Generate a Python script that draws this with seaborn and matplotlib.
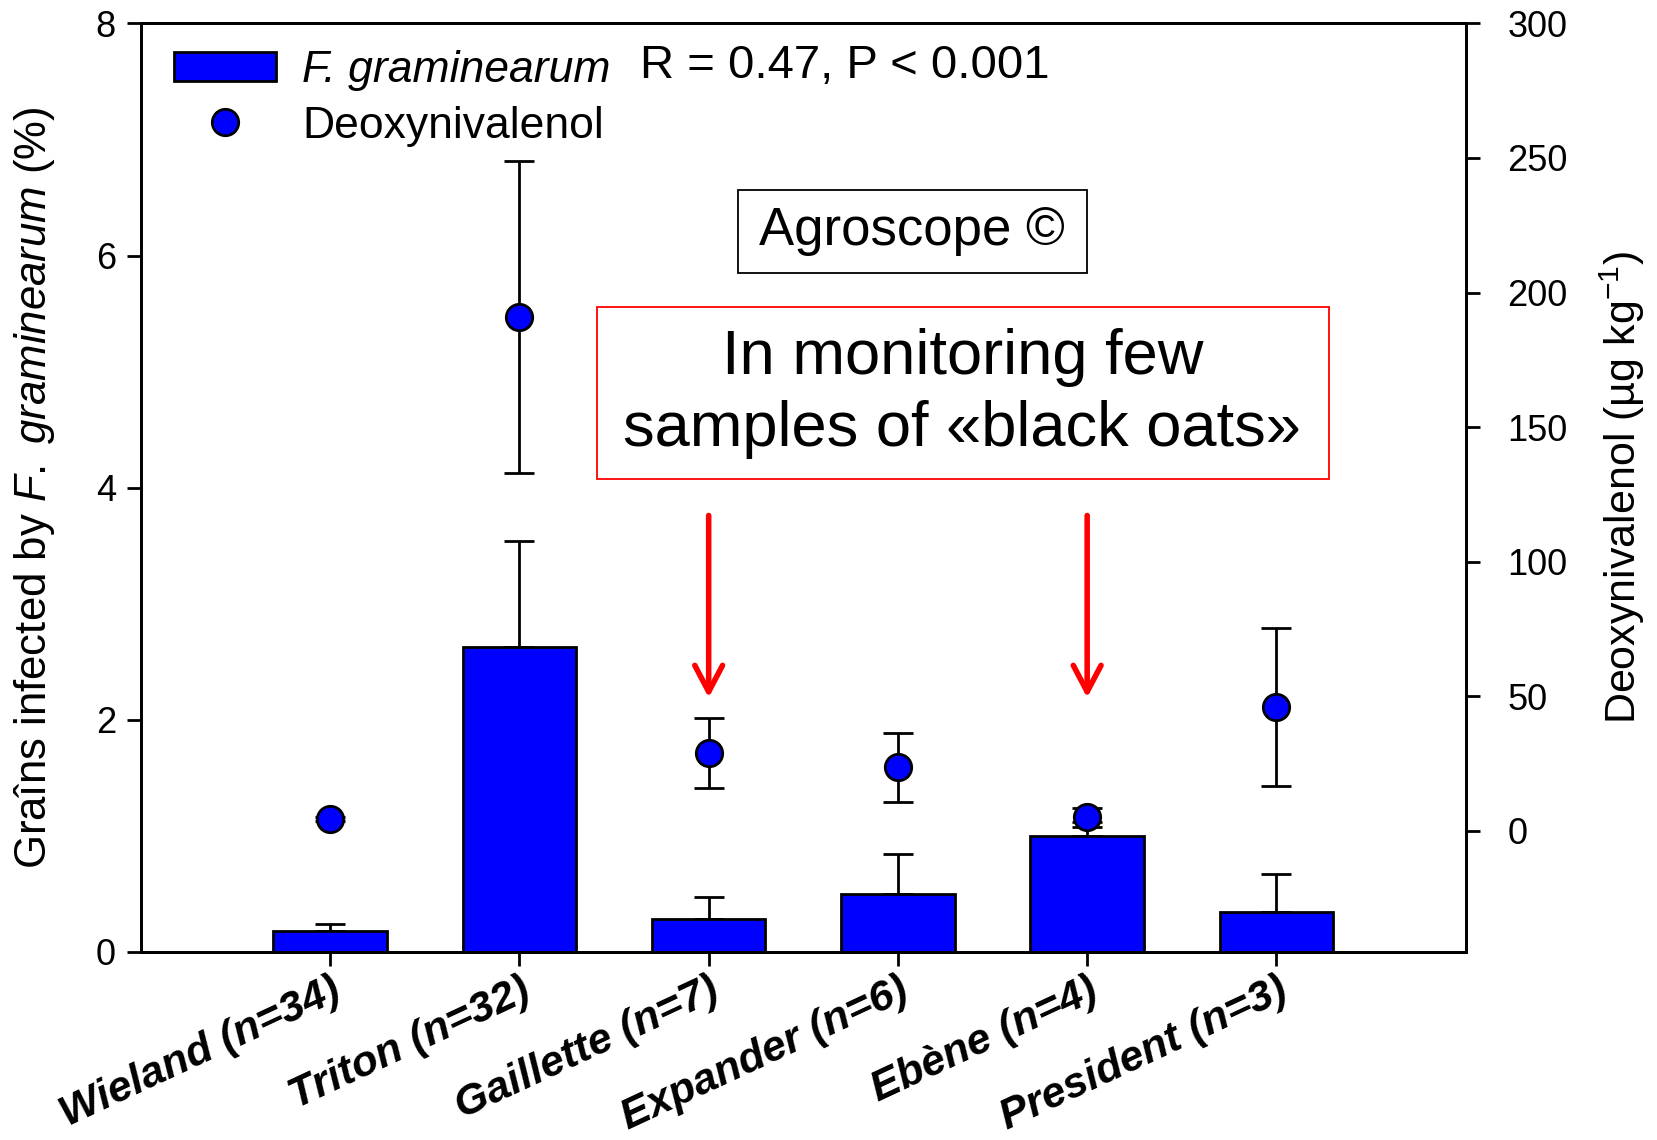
import numpy as np
import pandas as pd
import matplotlib
matplotlib.use("Agg")
import matplotlib.pyplot as plt
import seaborn as sns
from matplotlib.patches import Patch, Rectangle
from matplotlib.lines import Line2D

# ---- data ----
varieties = ["Wieland (n=34)", "Triton (n=32)", "Gaillette (n=7)",
             "Expander (n=6)", "Ebène (n=4)", "President (n=3)"]
fg_infected = [0.18, 2.63, 0.28, 0.50, 1.00, 0.34]      # % grains infected
fg_err = [0.06, 0.91, 0.19, 0.34, 0.12, 0.33]           # upper error
don_values = [4.5, 191.0, 29.0, 23.6, 5.0, 46.0]        # µg/kg
don_err = [0.8, 58.0, 13.0, 12.8, 3.5, 29.5]
highlight = ["Gaillette (n=7)", "Ebène (n=4)"]

sns.set_theme(style="white")
plt.rcParams["font.family"] = ["Liberation Sans", "DejaVu Sans"]
plt.rcParams["mathtext.fontset"] = "custom"
plt.rcParams["mathtext.rm"] = "Liberation Sans"
plt.rcParams["mathtext.it"] = "Liberation Sans:italic"
plt.rcParams["mathtext.bf"] = "Liberation Sans:bold"
for k in ["text.color", "axes.labelcolor", "xtick.color", "ytick.color"]:
    plt.rcParams[k] = "black"

fig = plt.figure(figsize=(16.58, 11.4), dpi=100)
ax = fig.add_axes([0.085, 0.165, 0.799, 0.8145])

df = pd.DataFrame({"variety": varieties, "fg": fg_infected})
sns.barplot(data=df, x="variety", y="fg", color=(0, 0, 1), saturation=1,
            width=0.6, edgecolor="black", linewidth=2, errorbar=None, ax=ax,
            zorder=2)
pos = np.arange(len(varieties))
ax.errorbar(pos, fg_infected, yerr=[np.zeros(len(fg_err)), fg_err], fmt="none",
            ecolor="black", elinewidth=2, capsize=11, capthick=2, zorder=1)

ax.set_xlim(-1, 6)
ax.set_ylim(0, 8)
ax.set_yticks([0, 2, 4, 6, 8])
ax.set_xlabel("")
ax.set_ylabel(r"Graîns infected by $\mathit{F.}$ $\mathit{graminearum}$ (%)",
              fontsize=31.5)
ax.yaxis.set_label_coords(-0.08, 0.5)
ax.yaxis.label.set_va("center")
ax.yaxis.label.set_rotation_mode("anchor")
ax.set_xticks(pos)
ax.set_xticklabels(varieties, rotation=25, ha="right", rotation_mode="anchor",
                   fontsize=31, fontweight="bold", fontstyle="italic")
ax.tick_params(axis="y", direction="out", length=10, width=2, labelsize=26,
               left=True, pad=8)
ax.tick_params(axis="x", direction="out", length=10, width=2, labelsize=31,
               bottom=True, pad=3)
for s in ax.spines.values():
    s.set_color("black")
    s.set_linewidth(2)

ax2 = ax.twinx()
ax2.errorbar(pos, don_values, yerr=don_err, fmt="none", ecolor="black",
             elinewidth=2, capsize=11, capthick=2, zorder=2)
sns.scatterplot(x=pos, y=don_values, ax=ax2, s=19**2, color=(0, 0, 1),
                edgecolor="black", linewidth=2, zorder=3, legend=False)
ax2.set_ylim(-45, 300)
ax2.set_yticks([0, 50, 100, 150, 200, 250, 300])
ax2.set_ylabel(r"Deoxynivalenol (µg kg$^{-1}$)", fontsize=31)
ax2.yaxis.set_label_coords(1.1185, 0.5)
ax2.yaxis.label.set_va("center")
ax2.yaxis.label.set_rotation_mode("anchor")
ax2.tick_params(axis="y", direction="out", length=10, width=2, labelsize=26,
                right=True, pad=20)
for s in ax2.spines.values():
    s.set_color("black")
    s.set_linewidth(2)
ax2.set_xlim(-1, 6)

# legend
handles = [Patch(facecolor=(0, 0, 1), edgecolor="black", linewidth=2),
           Line2D([], [], marker="o", linestyle="none", markersize=19,
                  markerfacecolor=(0, 0, 1), markeredgecolor="black",
                  markeredgewidth=2)]
labels = ["F. graminearum", "Deoxynivalenol"]
leg = ax2.legend(handles, labels, loc="upper left", bbox_to_anchor=(0.025, 0.971),
                 frameon=False, fontsize=32, handlelength=2.3, handleheight=0.64,
                 labelspacing=0.32, handletextpad=0.59, borderpad=0,
                 borderaxespad=0)
leg.get_texts()[0].set_fontstyle("italic")
ax2.text(0.377, 0.954, "R = 0.47, P < 0.001", transform=ax2.transAxes,
         fontsize=34, va="center", ha="left")

# annotation boxes
ax2.add_patch(Rectangle((0.4506, 0.731), 0.2634, 0.0894, transform=ax2.transAxes,
                        facecolor="white", edgecolor="black", linewidth=1.3,
                        zorder=4))
ax2.text(0.582, 0.776, "Agroscope ©", transform=ax2.transAxes, fontsize=38,
         ha="center", va="center", zorder=5)
ax2.add_patch(Rectangle((0.344, 0.509), 0.5526, 0.1854, transform=ax2.transAxes,
                        facecolor="white", edgecolor="red", linewidth=1.3,
                        zorder=4))
ax2.text(0.620, 0.601, "In monitoring few\nsamples of «black oats»",
         transform=ax2.transAxes, fontsize=45.5, ha="center", va="center",
         linespacing=1.28, zorder=5)

for v in highlight:
    i = varieties.index(v)
    ax.annotate("", xy=(i, 2.19), xytext=(i, 3.76),
                arrowprops=dict(arrowstyle="->,head_length=0.95,head_width=0.5",
                                mutation_scale=20, color="red", lw=4,
                                shrinkA=0, shrinkB=0))

fig.savefig("out.png", dpi=100)
